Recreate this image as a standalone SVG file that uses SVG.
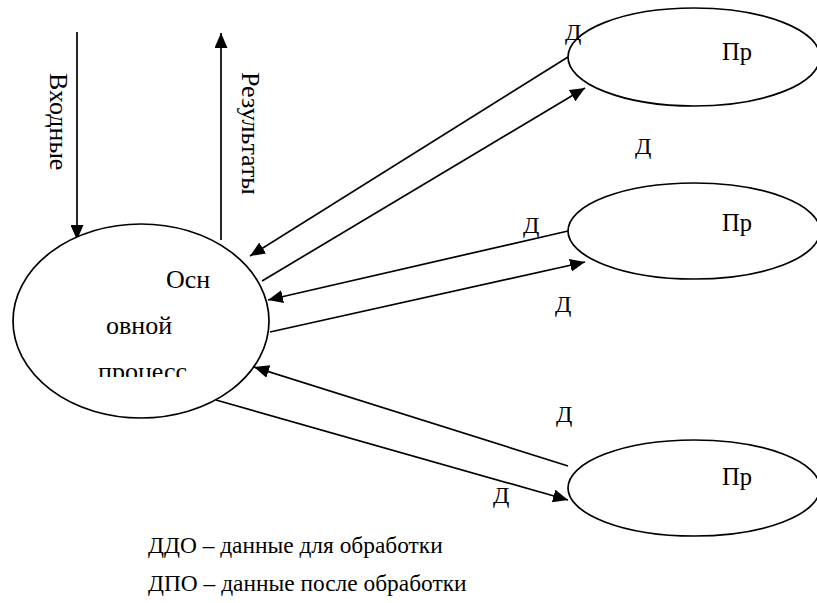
<svg xmlns="http://www.w3.org/2000/svg" width="817" height="603" viewBox="0 0 817 603">
<defs>
<marker id="ah" markerUnits="userSpaceOnUse" markerWidth="15" markerHeight="13" refX="15" refY="6.5" orient="auto">
<path d="M0,0 L15,6.5 L0,13 z" fill="#000"/>
</marker>
<clipPath id="clipP"><rect x="0" y="0" width="400" height="377"/></clipPath>
</defs>
<rect width="817" height="603" fill="#fff"/>
<g id="connectors" stroke="#000" stroke-width="1.7" fill="none" marker-end="url(#ah)">
<line x1="77" y1="32" x2="77" y2="240"/>
<line x1="221" y1="240" x2="221" y2="33"/>
<line x1="568" y1="57" x2="250" y2="256"/>
<line x1="262" y1="281" x2="585" y2="88"/>
<line x1="568" y1="231" x2="268" y2="300"/>
<line x1="270" y1="332" x2="585" y2="262"/>
<line x1="568" y1="466" x2="254" y2="367"/>
<line x1="216" y1="400" x2="568" y2="500"/>
</g>
<g id="main" font-family="Liberation Serif" font-size="26">
<ellipse cx="141" cy="321" rx="128" ry="97" fill="#fff" stroke="#000" stroke-width="1.7"/>
<text x="166" y="288">Осн</text>
<text x="106" y="334">овной</text>
<text x="98" y="380" clip-path="url(#clipP)">процесс</text>
</g>
<g id="proc1" font-family="Liberation Serif" font-size="24.5">
<ellipse cx="694" cy="57" rx="126" ry="49" fill="#fff" stroke="#000" stroke-width="1.7"/>
<text x="722" y="60">Пр</text>
</g>
<g id="proc2" font-family="Liberation Serif" font-size="24.5">
<ellipse cx="694" cy="231" rx="126" ry="48" fill="#fff" stroke="#000" stroke-width="1.7"/>
<text x="722" y="231">Пр</text>
</g>
<g id="proc3" font-family="Liberation Serif" font-size="24.5">
<ellipse cx="694" cy="488" rx="126" ry="48" fill="#fff" stroke="#000" stroke-width="1.7"/>
<text x="722" y="485">Пр</text>
</g>
<g id="labels" font-family="Liberation Serif" font-size="24">
<text transform="translate(50,73) rotate(90)" font-size="26">Входные</text>
<text transform="translate(242,72) rotate(90)" font-size="26">Результаты</text>
<text x="565" y="40">Д</text>
<text x="635" y="154">Д</text>
<text x="523" y="233">Д</text>
<text x="555" y="312">Д</text>
<text x="556" y="422">Д</text>
<text x="493" y="503">Д</text>
<text x="148" y="553" font-size="23.4">ДДО – данные для обработки</text>
<text x="148" y="591" font-size="23.4">ДПО – данные после обработки</text>
</g>
</svg>
